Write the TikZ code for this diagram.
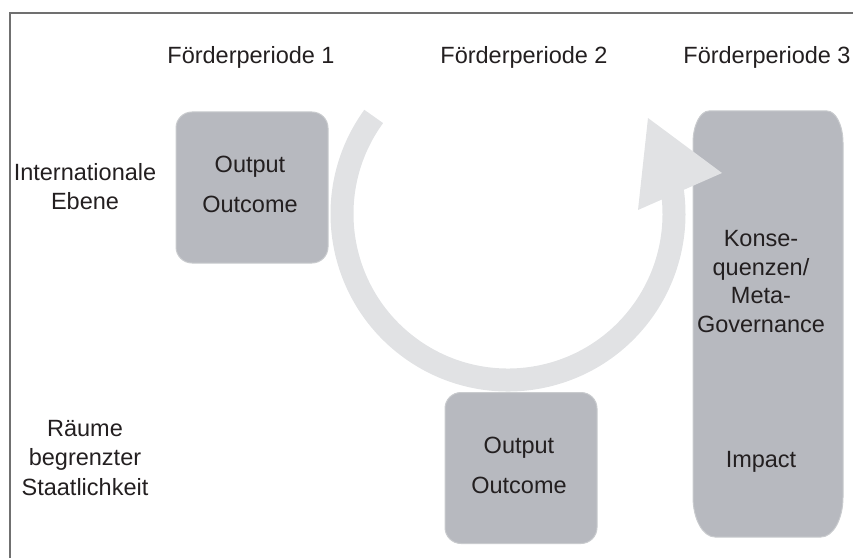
\documentclass[tikz,border=0pt]{standalone}
\usepackage{fontspec}
\setmainfont{Liberation Sans}
\usetikzlibrary{positioning}
\definecolor{boxgray}{HTML}{B7B9BF}
\definecolor{boxline}{HTML}{C9CBCE}
\definecolor{ringgray}{HTML}{E1E2E4}
\definecolor{framegray}{HTML}{707070}
\definecolor{txtgray}{HTML}{231F20}

\begin{document}
\begin{tikzpicture}[x=1pt,y=1pt,on grid,
    lbl/.style={text=txtgray, inner sep=0pt, align=center, font=\fontsize{23.5}{29}\selectfont},
    period/.style={lbl},
    box/.style={fill=boxgray, draw=boxline, line width=1pt, rounded corners=16pt, minimum width=152pt, minimum height=151pt},
    boxtxt/.style={lbl, font=\fontsize{23.5}{40}\selectfont},
    ring/.style={draw=ringgray, line width=23pt}]
    \useasboundingbox (0,0) rectangle (853,558);
    \draw[framegray, line width=1.3pt] (10,0) -- (10,545) -- (853,545);

    \node[period] (per1) at (251,501) {Förderperiode 1};
    \node[period] (per2) [right=273pt of per1] {Förderperiode 2};
    \node[period] (per3) [right=243pt of per2] {Förderperiode 3};

    \node[lbl] (intl) at (85,371) {Internationale\\Ebene};
    \node[lbl, font=\fontsize{23.5}{29.5}\selectfont] (raeume) [below=271pt of intl] {Räume\\begrenzter\\Staatlichkeit};

    \node[box] (out1) at (252,370.5) {};
    \node[boxtxt] (out1txt) at ([xshift=-2pt,yshift=3pt]out1.center) {Output\\Outcome};
    \node[box] (out2) at (521,90) {};
    \node[boxtxt] (out2txt) at ([xshift=-2pt,yshift=3pt]out2.center) {Output\\Outcome};

    % tall box of period 3
    \filldraw[fill=boxgray, draw=boxline, line width=1pt]
        (693,415) arc[start angle=180, end angle=90, x radius=16pt, y radius=32pt]
        -- (827,447) arc[start angle=90, end angle=0, x radius=16pt, y radius=32pt]
        -- (843,61) arc[start angle=0, end angle=-90, x radius=22pt, y radius=40pt]
        -- (715,21) arc[start angle=270, end angle=180, x radius=22pt, y radius=40pt]
        -- cycle;
    \node[lbl, font=\fontsize{23.5}{28.7}\selectfont] (konseq) at (761,276.5) {Konse-\\quenzen/\\Meta-\\Governance};
    \node[lbl] (impact) [below=180.5pt of konseq] {Impact};

    % cycle arrow
    \coordinate (cyc) at (508,344);
    \draw[ring] ([shift={(144:166pt)}]cyc) arc[start angle=144, end angle=368, radius=166pt];
    \fill[ringgray] ([shift={(140,96)}]cyc) -- ([shift={(130,4)}]cyc) -- ([shift={(214,41)}]cyc) -- cycle;
\end{tikzpicture}
\end{document}
